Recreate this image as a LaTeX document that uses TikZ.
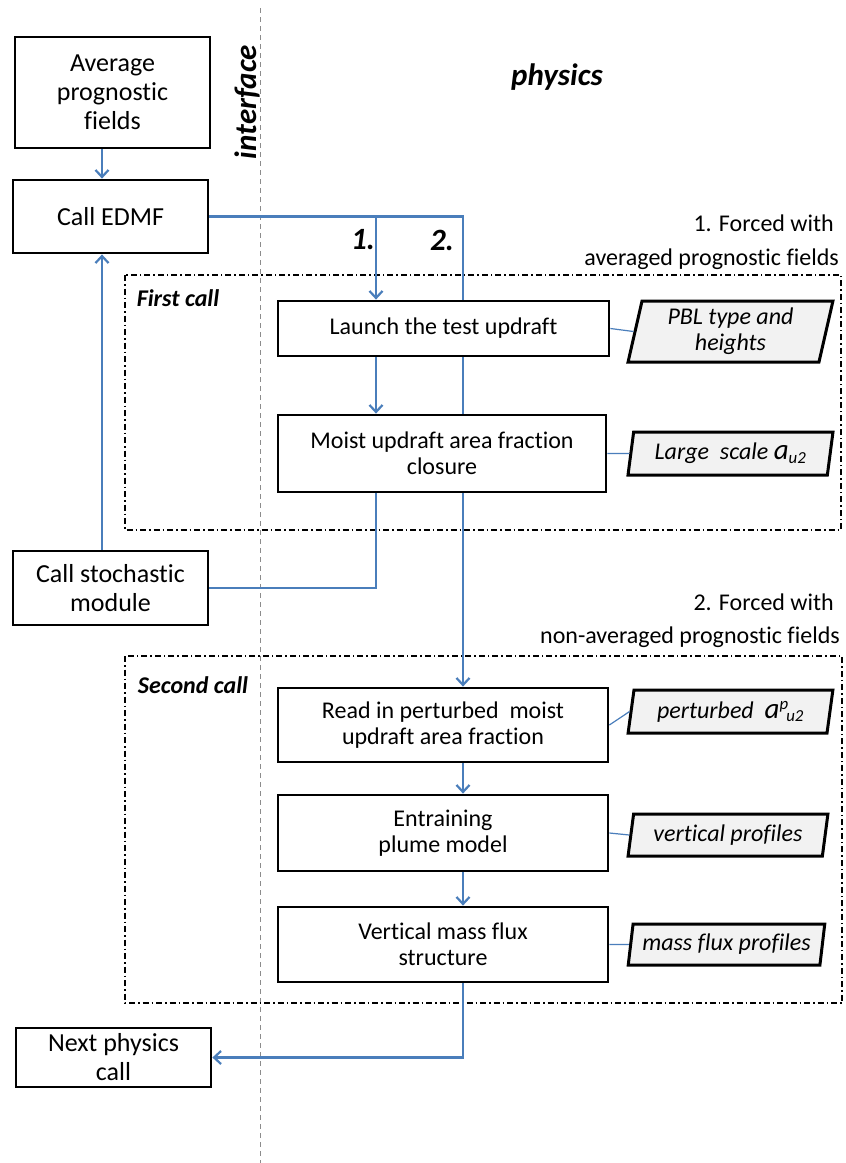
\documentclass[tikz,border=0pt]{standalone}
\usepackage{fontspec}
\setmainfont{Carlito}[Ligatures=CommonOff]
\usetikzlibrary{arrows.meta,shapes.geometric}
\definecolor{lineblue}{HTML}{4A7EBB}
\definecolor{parfill}{HTML}{F2F2F2}
\newcommand{\biga}{{\fontsize{29}{29}\selectfont a}}
\begin{document}
\begin{tikzpicture}[x=1pt,y=-1pt,
  box/.style={draw=black, line width=2.8pt, rectangle, align=center, font=\fontsize{26}{29}\selectfont, inner sep=0pt},
  pbox/.style={draw=black, line width=2.8pt, rectangle, align=center, font=\fontsize{24}{26}\selectfont, inner sep=0pt},
  para/.style={trapezium, trapezium left angle=78, trapezium right angle=102, trapezium stretches=true, draw=black, line width=3pt, fill=parfill, font=\itshape\fontsize{24}{26}\selectfont, align=center, inner sep=0pt},
  conn/.style={draw=lineblue, line width=2.2pt},
  arr/.style={conn, -{Straight Barb[length=7pt,width=13pt]}},
  thinconn/.style={draw=lineblue, line width=1.2pt},
  group/.style={draw=black, line width=1.3pt, dash pattern=on 6pt off 3pt on 1.5pt off 3pt},
  iface/.style={draw=black!45, line width=1pt, dash pattern=on 5pt off 4pt},
  bigbi/.style={font=\bfseries\itshape\fontsize{31}{34}\selectfont},
  grplabel/.style={font=\bfseries\itshape\fontsize{24}{26}\selectfont},
  note/.style={font=\fontsize{24}{26}\selectfont, anchor=east, inner sep=0pt}
]
\useasboundingbox[fill=white] (0,0) rectangle (846,1163);

% interface line
\coordinate (ifTop) at (260,8);
\coordinate (ifBot) at (260,1163);
\draw[iface] (ifTop) -- (ifBot);

% group boxes
\draw[group] (125,275) rectangle (841,530);
\draw[group] (125,656) rectangle (842,1003);

% column coordinates
\coordinate (x1) at (376,0);
\coordinate (x2) at (463,0);
\coordinate (xl) at (102,0);

% left boxes
\node[box, minimum width=195, minimum height=111] (avg) at (112.5,92.5) {Average\\prognostic\\fields};
\node[box, minimum width=195, minimum height=73] (edmf) at (110.5,216.5) {Call EDMF};
\node[box, minimum width=195, minimum height=74] (stoch) at (110.5,588) {Call stochastic\\module};
\node[box, minimum width=195, minimum height=59] (next) at (113.5,1057.5) {Next physics\\call};

% process boxes
\node[pbox, minimum width=331, minimum height=55] (launch) at (443.5,328.5) {Launch the test updraft};
\node[pbox, minimum width=328, minimum height=77] (moist) at (442,453.5) {Moist updraft area fraction\\closure};
\node[pbox, minimum width=330, minimum height=74] (readin) at (443,725) {Read in perturbed\ \ moist\\updraft area fraction};
\node[pbox, minimum width=330, minimum height=76] (entr) at (443,833) {Entraining\\plume model};
\node[pbox, minimum width=330, minimum height=75] (vmf) at (443,944.5) {Vertical mass flux\\structure};

% parallelograms
\node[para, minimum width=205, minimum height=61] (pbl) at (730.5,331.5) {PBL type and\\heights};
\node[para, minimum width=205, minimum height=43] (lsc) at (730.5,453.5) {Large\ \ scale \biga\textsubscript{u2}};
\node[para, minimum width=205, minimum height=43] (pert) at (730.5,711.5) {perturbed\ \ \biga\textsuperscript{p}\kern-0.1em\textsubscript{u2}};
\node[para, minimum width=200, minimum height=42] (vprof) at (728,835) {vertical profiles};
\node[para, minimum width=197, minimum height=41] (mfprof) at (726.5,944.5) {mass flux profiles};

% labels
\node[bigbi, rotate=90] (ifacelbl) at (247,102) {interface};
\node[bigbi] (physlbl) at (557,77) {physics};
\node[bigbi] (onelbl) at (363,240) {1.};
\node[bigbi] (twolbl) at (442,240) {2.};
\node[note] (f1a) at (834,223) {1. Forced with};
\node[note] (f1b) at (839,259) {averaged prognostic fields};
\node[note] (f2a) at (834,602) {2. Forced with};
\node[note] (f2b) at (840,637) {non-averaged prognostic fields};
\node[grplabel] (fc) at (178,298) {First call};
\node[grplabel] (sc) at (193,685) {Second call};

% connectors
\draw[arr] (avg.south -| xl) -- (edmf.north -| xl);
\draw[conn] (edmf.east) -- (edmf.east -| x2) -- (launch.north -| x2);
\draw[arr] (edmf.east -| x1) -- (launch.north -| x1);
\draw[arr] (launch.south -| x1) -- (moist.north -| x1);
\draw[conn] (launch.south -| x2) -- (moist.north -| x2);
\draw[conn] (moist.south -| x1) |- (stoch.east);
\draw[arr] (stoch.north -| xl) -- (edmf.south -| xl);
\draw[arr] (moist.south -| x2) -- (readin.north -| x2);
\draw[arr] (readin.south -| x2) -- (entr.north -| x2);
\draw[arr] (entr.south -| x2) -- (vmf.north -| x2);
\draw[arr] (vmf.south -| x2) |- (next.east);

\draw[thinconn] (launch.east) -- (pbl.west);
\draw[thinconn] (moist.east) -- (lsc.west);
\draw[thinconn] (readin.east) -- (pert.west);
\draw[thinconn] (entr.east) -- (vprof.west);
\draw[thinconn] (vmf.east) -- (mfprof.west);
\end{tikzpicture}
\end{document}
